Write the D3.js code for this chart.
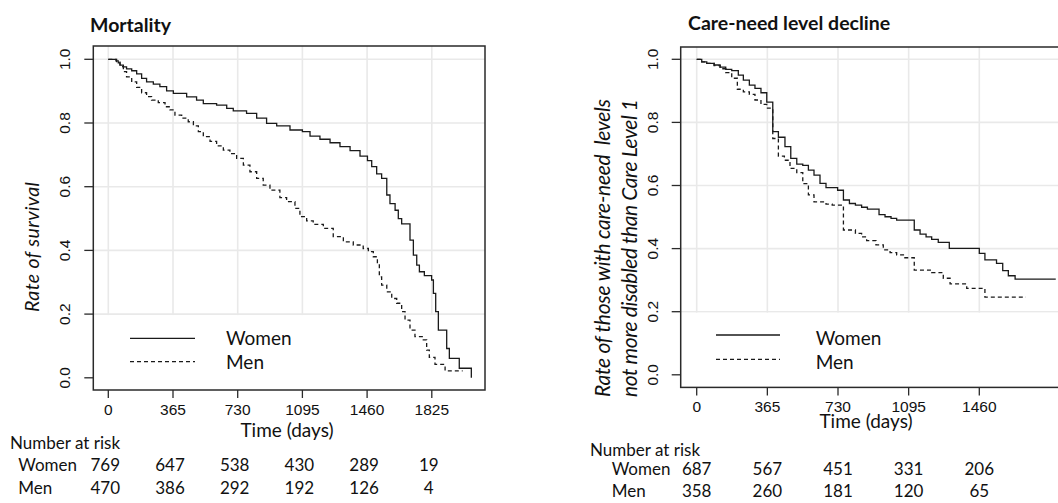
<!DOCTYPE html>
<html>
<head>
<meta charset="utf-8">
<script src="https://cdn.jsdelivr.net/npm/d3@7"></script>
<style>
  body { margin: 0; background: #fff; }
  svg { display: block; }
  text { fill: #111; }
  .tlab { font-family: "Liberation Sans", Arial, sans-serif; font-size: 15.5px; }
  .cal { font-family: Lato, "Open Sans", sans-serif; }
</style>
</head>
<body>
<svg id="chart" width="1058" height="503"></svg>
<script>
// tick labels
var yTicks = [0, 0.2, 0.4, 0.6, 0.8, 1.0];
var mortTicks = [0, 365, 730, 1095, 1460, 1825];
var careTicks = [0, 365, 730, 1095, 1460];

// Kaplan-Meier estimates: [day, rate]
var mortWomen = [[0,1],[43,0.995],[56,0.989],[66,0.982],[85,0.976],[103,0.970],[132,0.964],[160,0.954],[188,0.940],[216,0.929],[254,0.922],[291,0.914],[329,0.901],[367,0.893],[442,0.882],[498,0.872],[536,0.861],[611,0.856],[668,0.846],[705,0.838],[780,0.830],[837,0.815],[893,0.799],[950,0.791],[1025,0.778],[1095,0.773],[1138,0.759],[1194,0.749],[1251,0.738],[1307,0.726],[1364,0.713],[1420,0.696],[1462,0.682],[1486,0.663],[1514,0.640],[1542,0.626],[1571,0.574],[1589,0.547],[1618,0.526],[1636,0.500],[1655,0.483],[1702,0.432],[1721,0.385],[1740,0.354],[1755,0.333],[1783,0.321],[1824,0.307],[1834,0.265],[1847,0.208],[1862,0.150],[1909,0.092],[1924,0.061],[1980,0.030],[2048,0]];
var mortMen = [[0,1],[47,0.993],[66,0.977],[85,0.961],[103,0.945],[132,0.929],[160,0.912],[188,0.895],[216,0.883],[244,0.872],[282,0.864],[320,0.851],[348,0.841],[376,0.825],[414,0.815],[451,0.804],[480,0.791],[508,0.773],[536,0.757],[574,0.742],[611,0.728],[649,0.715],[686,0.704],[724,0.689],[762,0.668],[799,0.647],[837,0.626],[874,0.605],[912,0.589],[968,0.566],[1006,0.553],[1053,0.532],[1081,0.506],[1119,0.493],[1156,0.482],[1213,0.469],[1269,0.443],[1326,0.427],[1382,0.417],[1438,0.406],[1467,0.396],[1495,0.380],[1518,0.359],[1529,0.317],[1542,0.291],[1571,0.270],[1599,0.249],[1627,0.234],[1655,0.208],[1674,0.181],[1702,0.150],[1730,0.129],[1777,0.119],[1796,0.087],[1811,0.064],[1843,0.042],[1900,0.022],[1999,0.022]];
var careWomen = [[0,1],[26,0.992],[52,0.987],[90,0.982],[121,0.975],[150,0.968],[181,0.964],[215,0.950],[241,0.934],[272,0.918],[301,0.908],[332,0.894],[362,0.864],[393,0.771],[422,0.753],[456,0.723],[486,0.686],[517,0.668],[548,0.664],[577,0.649],[606,0.633],[637,0.607],[668,0.593],[728,0.585],[758,0.554],[789,0.543],[820,0.538],[852,0.531],[882,0.525],[942,0.508],[973,0.501],[1004,0.496],[1033,0.490],[1124,0.459],[1154,0.446],[1185,0.437],[1214,0.429],[1248,0.420],[1305,0.401],[1460,0.385],[1489,0.364],[1549,0.353],[1581,0.330],[1610,0.314],[1645,0.303],[1855,0.303]];
var careMen = [[0,1],[26,0.992],[52,0.987],[90,0.980],[121,0.970],[150,0.958],[181,0.940],[210,0.905],[241,0.897],[272,0.889],[301,0.871],[332,0.857],[362,0.845],[393,0.749],[422,0.693],[453,0.680],[482,0.654],[517,0.641],[548,0.606],[577,0.570],[606,0.548],[668,0.541],[700,0.538],[758,0.459],[820,0.448],[852,0.437],[878,0.425],[926,0.412],[964,0.396],[999,0.387],[1033,0.380],[1068,0.371],[1124,0.332],[1214,0.324],[1274,0.306],[1309,0.288],[1395,0.274],[1489,0.246],[1701,0.246]];

// number at risk
var riskMortWomen = [769, 647, 538, 430, 289, 19];
var riskMortMen = [470, 386, 292, 192, 126, 4];
var riskCareWomen = [687, 567, 451, 331, 206];
var riskCareMen = [358, 260, 181, 120, 65];

var svg = d3.select("#chart");

var panels = [
  {
    title: "Mortality", titleX: 90, titleY: 31.5,
    box: {l: 93.3, r: 485, t: 46, b: 390},
    xRange: [108.3, 431.8], yRange: [377.8, 59.3], xMax: 1825,
    ticks: mortTicks, women: mortWomen, men: mortMen,
    yLabX: 70.4, xLabY: 415.4,
    yTitle: ["Rate of survival"], yTitleX: [38.5], yTitleY: 247, yTitleLen: 130, yTitleSize: 19.5,
    xTitleX: 287, xTitleY: 437,
    leg: {x1: 130, x2: 195, yW: 338.3, yM: 361.7, tx: 226, tyW: 345, tyM: 369},
    risk: {labX: 10, labY: 449, rowX: 18.3, wY: 471, mY: 494, shift: -3,
           women: riskMortWomen, men: riskMortMen}
  },
  {
    title: "Care-need level decline", titleX: 688, titleY: 30,
    box: {l: 680.7, r: 1113, t: 47, b: 387.4},
    xRange: [696.7, 979.3], yRange: [374.8, 59.3], xMax: 1460,
    ticks: careTicks, women: careWomen, men: careMen,
    yLabX: 658.4, xLabY: 412,
    yTitle: ["Rate of those with care-need  levels", "not more disabled than Care Level 1"],
    yTitleX: [610, 636.5], yTitleY: 248, yTitleLen: 298, yTitleSize: 21,
    xTitleX: 866, xTitleY: 428,
    leg: {x1: 716, x2: 780, yW: 335, yM: 359.3, tx: 815.7, tyW: 345, tyM: 369},
    risk: {labX: 590, labY: 456, rowX: 611.7, wY: 475, mY: 497, shift: 0,
           women: riskCareWomen, men: riskCareMen}
  }
];

panels.forEach(function(p) {
  var x = d3.scaleLinear().domain([0, p.xMax]).range(p.xRange);
  var y = d3.scaleLinear().domain([0, 1]).range(p.yRange);
  var b = p.box;
  var g = svg.append("g");

  // grid
  g.selectAll(".gx").data(p.ticks).enter().append("line")
    .attr("x1", function(d) { return x(d); }).attr("x2", function(d) { return x(d); })
    .attr("y1", b.t).attr("y2", b.b)
    .attr("stroke", "#e9e9e9").attr("stroke-width", 1.6);
  g.selectAll(".gy").data(yTicks).enter().append("line")
    .attr("x1", b.l).attr("x2", b.r)
    .attr("y1", function(d) { return y(d); }).attr("y2", function(d) { return y(d); })
    .attr("stroke", "#e9e9e9").attr("stroke-width", 1.6);

  // legend background hides grid below 0.2
  g.append("rect")
    .attr("x", b.l).attr("y", y(0.2) + 1)
    .attr("width", b.r - b.l).attr("height", b.b - y(0.2) - 1)
    .attr("fill", "#fff");

  // curves
  var line = d3.line()
    .x(function(d) { return x(d[0]); })
    .y(function(d) { return y(d[1]); })
    .curve(d3.curveStepAfter);
  g.append("path").datum(p.women).attr("d", line)
    .attr("fill", "none").attr("stroke", "#1a1a1a").attr("stroke-width", 1.3);
  g.append("path").datum(p.men).attr("d", line)
    .attr("fill", "none").attr("stroke", "#1a1a1a").attr("stroke-width", 1.3)
    .attr("stroke-dasharray", "4,3");

  // box
  g.append("rect")
    .attr("x", b.l).attr("y", b.t)
    .attr("width", b.r - b.l).attr("height", b.b - b.t)
    .attr("fill", "none").attr("stroke", "#2a2a2a").attr("stroke-width", 1.5);

  // ticks + labels
  g.selectAll(".tx").data(p.ticks).enter().append("line")
    .attr("x1", function(d) { return x(d); }).attr("x2", function(d) { return x(d); })
    .attr("y1", b.b).attr("y2", b.b + 8)
    .attr("stroke", "#2a2a2a").attr("stroke-width", 1.3);
  g.selectAll(".lx").data(p.ticks).enter().append("text")
    .attr("class", "tlab")
    .attr("x", function(d) { return x(d); }).attr("y", p.xLabY)
    .attr("text-anchor", "middle")
    .text(function(d) { return d; });
  g.selectAll(".ty").data(yTicks).enter().append("line")
    .attr("x1", b.l - 9).attr("x2", b.l)
    .attr("y1", function(d) { return y(d); }).attr("y2", function(d) { return y(d); })
    .attr("stroke", "#2a2a2a").attr("stroke-width", 1.3);
  g.selectAll(".ly").data(yTicks).enter().append("text")
    .attr("class", "tlab")
    .attr("transform", function(d) { return "translate(" + p.yLabX + "," + y(d) + ") rotate(-90)"; })
    .attr("text-anchor", "middle")
    .text(function(d) { return d3.format(".1f")(d); });

  // titles
  g.append("text").attr("class", "cal")
    .attr("x", p.titleX).attr("y", p.titleY)
    .style("font-size", "19.5px").style("font-weight", "bold")
    .text(p.title);
  p.yTitle.forEach(function(t, i) {
    g.append("text").attr("class", "cal")
      .attr("transform", "translate(" + p.yTitleX[i] + "," + p.yTitleY + ") rotate(-90)")
      .attr("text-anchor", "middle")
      .attr("textLength", p.yTitleLen)
      .attr("lengthAdjust", "spacing")
      .style("white-space", "pre")
      .style("font-size", p.yTitleSize + "px").style("font-style", "italic")
      .text(t);
  });
  g.append("text").attr("class", "cal")
    .attr("x", p.xTitleX).attr("y", p.xTitleY)
    .attr("text-anchor", "middle")
    .style("font-size", "19px")
    .text("Time (days)");

  // legend
  var L = p.leg;
  g.append("line").attr("x1", L.x1).attr("x2", L.x2).attr("y1", L.yW).attr("y2", L.yW)
    .attr("stroke", "#1a1a1a").attr("stroke-width", 1.3);
  g.append("line").attr("x1", L.x1).attr("x2", L.x2).attr("y1", L.yM).attr("y2", L.yM)
    .attr("stroke", "#1a1a1a").attr("stroke-width", 1.3).attr("stroke-dasharray", "4,3");
  g.append("text").attr("class", "cal").attr("x", L.tx).attr("y", L.tyW)
    .style("font-size", "19px").text("Women");
  g.append("text").attr("class", "cal").attr("x", L.tx).attr("y", L.tyM)
    .style("font-size", "19px").text("Men");

  // number at risk table
  var R = p.risk;
  g.append("text").attr("class", "cal").attr("x", R.labX).attr("y", R.labY)
    .style("font-size", "17px").text("Number at risk");
  [["Women", R.women, R.wY], ["Men", R.men, R.mY]].forEach(function(row) {
    g.append("text").attr("class", "cal").attr("x", R.rowX).attr("y", row[2])
      .style("font-size", "17px").text(row[0]);
    g.selectAll(null).data(row[1]).enter().append("text")
      .attr("class", "cal")
      .attr("x", function(d, i) { return x(p.ticks[i]) + R.shift; })
      .attr("y", row[2])
      .attr("text-anchor", "middle")
      .style("font-size", "17px")
      .text(function(d) { return d; });
  });
});
</script>
</body>
</html>
